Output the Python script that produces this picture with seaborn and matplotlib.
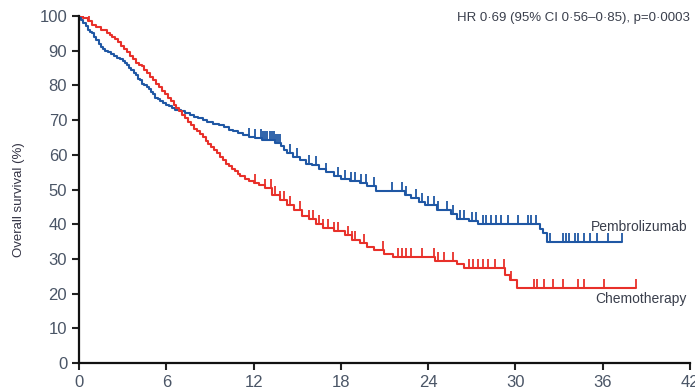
import numpy as np
import pandas as pd
import matplotlib
matplotlib.use("Agg")
import matplotlib.pyplot as plt
from matplotlib.path import Path
import seaborn as sns

# Kaplan-Meier step points (months, overall survival %)
pembro_t = [0, 0.15, 0.3, 0.45, 0.6, 0.75, 0.9, 1.05, 1.2, 1.35, 1.5, 1.65, 1.8, 2.0,
            2.2, 2.4, 2.6, 2.8, 3.0, 3.15, 3.3, 3.45, 3.6, 3.75, 3.9, 4.05, 4.2, 4.35,
            4.5, 4.65, 4.8, 4.95, 5.1, 5.25, 5.4, 5.6, 5.8, 6.0, 6.2, 6.4, 6.6, 6.8,
            7.0, 7.3, 7.6, 7.9, 8.2, 8.5, 8.8, 9.2, 9.6, 10.0, 10.3, 10.6, 10.9, 11.3,
            11.7, 12.1, 12.6, 13.5, 13.9, 14.1, 14.3, 14.7, 15.2, 15.6, 16.0,
            16.5, 17.0, 17.5, 18.0, 18.6, 19.3, 19.8, 20.4, 22.4, 22.8, 23.4, 23.8,
            24.6, 25.6, 26.0, 26.8, 27.4, 31.7, 31.9, 32.2, 37.3]
pembro_s = [100, 99, 98, 97, 96, 95.5, 95, 94, 93, 92, 91, 90.5, 90, 89.5,
            89, 88.5, 88, 87.5, 87, 86.5, 86, 85, 84.5, 83.5, 83, 82, 81.5, 80.5,
            80, 79.5, 79, 78, 77.5, 76.5, 76, 75.5, 75, 74.5, 74, 73.5, 73, 72.8,
            72.5, 72, 71.5, 71, 70.5, 70, 69.5, 69, 68.5, 68, 67.3, 66.8, 66.3, 65.7,
            65.2, 64.8, 64.3, 63.5, 62.5, 61.5, 60.5, 59.5, 58.5, 57.5, 57,
            56, 55, 54, 53, 52.5, 52, 51, 49.5, 48.5, 47.5, 46.5, 45.5,
            44, 43, 41.5, 41, 40, 38.5, 37.5, 35, 35]

chemo_t = [0, 0.3, 0.6, 0.9, 1.2, 1.5, 1.9, 2.1, 2.3, 2.5, 2.7, 2.9, 3.1, 3.3, 3.5,
           3.7, 3.9, 4.1, 4.3, 4.5, 4.7, 4.9, 5.1, 5.3, 5.5, 5.7, 5.9, 6.1, 6.3, 6.5,
           6.7, 6.9, 7.1, 7.3, 7.5, 7.7, 7.9, 8.1, 8.3, 8.5, 8.7, 8.9, 9.1, 9.3, 9.5,
           9.7, 9.9, 10.1, 10.3, 10.5, 10.7, 10.9, 11.1, 11.4, 11.7, 12.0, 12.4,
           12.8, 13.3, 13.8, 14.3, 14.8, 15.3, 15.8, 16.3, 16.8, 17.5, 18.3, 18.8,
           19.3, 19.8, 20.3, 21.0, 21.6, 24.5, 26.0, 26.5, 29.3, 29.6, 30.1, 38.3]
chemo_s = [100, 99.5, 98.5, 97.5, 96.8, 96, 95, 94.5, 94, 93.5, 92.5, 91.5, 90.5, 89.5, 88.5,
           87.5, 86.5, 86, 85.5, 84.5, 83.5, 82.5, 81.5, 80.5, 79.5, 78.5, 77.5, 76.5, 75.5, 74.5,
           73.5, 72.5, 71.5, 70.5, 69.5, 68.5, 67.5, 66.8, 66, 65, 64, 63, 62.3, 61.5, 60.5,
           59.5, 58.5, 57.5, 56.8, 56, 55.2, 54.5, 53.8, 53, 52.4, 51.8, 51.2,
           50.5, 48.5, 47, 45.5, 44, 42.5, 41.5, 40, 39, 38, 37, 35.5,
           34.5, 33.5, 32.5, 31.5, 30.5, 29.5, 28.5, 27.5, 25.5, 24, 21.7, 21.7]

# Censoring times (months)
pembro_cens = [11.7, 12.1, 12.5, 12.65, 12.8, 12.95, 13.1, 13.25, 13.4, 13.55, 13.7,
               13.85, 14.5, 15.0, 15.8, 16.3, 17.0, 17.8, 18.3, 18.7, 19.0, 19.4, 19.7,
               20.3, 21.5, 22.2, 22.5, 23.2, 23.6, 24.0, 24.4, 24.7, 25.3, 25.7, 26.2,
               26.5, 27.0, 27.3, 27.8, 28.0, 28.3, 28.7, 29.0, 29.5, 30.2, 30.9, 31.1,
               31.4, 32.4, 33.3, 33.5, 33.7, 34.1, 34.3, 34.7, 35.1, 35.6, 36.4, 37.3]
chemo_cens = [0.0, 0.7, 12.1, 12.8, 13.2, 13.5, 13.8, 14.1, 14.5, 15.2, 15.8, 16.1,
              16.5, 16.8, 17.1, 17.5, 17.8, 18.5, 18.8, 19.0, 19.6, 20.9, 21.9, 22.2,
              22.5, 22.8, 23.6, 24.4, 24.7, 25.1, 25.7, 26.8, 27.1, 27.4, 27.8, 28.1,
              28.6, 29.2, 29.7, 31.3, 31.5, 32.0, 32.6, 33.3, 34.3, 34.7, 36.1, 38.3]

arms = ["Pembrolizumab", "Chemotherapy"]
colors = {"Pembrolizumab": "#1f57a4", "Chemotherapy": "#e8302a"}
hr_text = "HR 0·69 (95% CI 0·56–0·85), p=0·0003"
x_ticks = [0, 6, 12, 18, 24, 30, 36, 42]
y_ticks = [0, 10, 20, 30, 40, 50, 60, 70, 80, 90, 100]

curves = pd.concat([
    pd.DataFrame({"month": pembro_t, "os": pembro_s, "arm": arms[0]}),
    pd.DataFrame({"month": chemo_t, "os": chemo_s, "arm": arms[1]}),
])


def value_at(times, surv, when):
    idx = np.searchsorted(np.asarray(times), np.asarray(when), side="right") - 1
    return np.asarray(surv)[np.clip(idx, 0, len(surv) - 1)]


cens = pd.concat([
    pd.DataFrame({"month": pembro_cens,
                  "os": value_at(pembro_t, pembro_s, pembro_cens), "arm": arms[0]}),
    pd.DataFrame({"month": chemo_cens,
                  "os": value_at(chemo_t, chemo_s, chemo_cens), "arm": arms[1]}),
])

sns.set_style("ticks")
plt.rcParams["font.family"] = ["Liberation Sans", "DejaVu Sans"]

fig = plt.figure(figsize=(6.95, 3.92), dpi=100)
ax = fig.add_axes([0.1137, 0.074, 0.879, 0.885])

sns.lineplot(data=curves, x="month", y="os", hue="arm", palette=colors,
             drawstyle="steps-post", linewidth=1.5, legend=False, ax=ax,
             estimator=None, sort=False)

# upward tick used for censored observations
tick = Path([(0, 0), (0, 1)], [Path.MOVETO, Path.LINETO])
for arm in arms:
    sub = cens[cens["arm"] == arm]
    sns.scatterplot(data=sub, x="month", y="os", marker=tick, s=150,
                    color=colors[arm], edgecolor=colors[arm], linewidth=1.3,
                    legend=False, ax=ax, zorder=3)

ax.set_xlim(0, 42)
ax.set_ylim(0, 100)
ax.set_xticks(x_ticks)
ax.set_yticks(y_ticks)
ax.set_xlabel("")
ax.set_ylabel("Overall survival (%)", fontsize=9.5, color="#333344")
ax.yaxis.set_label_coords(-0.088, 0.47)
ax.tick_params(axis="both", labelsize=12, colors="#222222", labelcolor="#4a5566",
               length=5, width=1.5)
for side in ["left", "bottom"]:
    ax.spines[side].set_linewidth(1.6)
    ax.spines[side].set_color("#111111")
sns.despine(ax=ax)

ax.text(1.0, 0.995, hr_text, transform=ax.transAxes, ha="right", va="center",
        fontsize=9.5, color="#3a3f4c")
ax.text(41.8, 39.2, "Pembrolizumab", ha="right", va="center", fontsize=10,
        color="#3a3f4c")
ax.text(41.8, 18.5, "Chemotherapy", ha="right", va="center", fontsize=10,
        color="#3a3f4c")

fig.savefig("out.png", dpi=100)
